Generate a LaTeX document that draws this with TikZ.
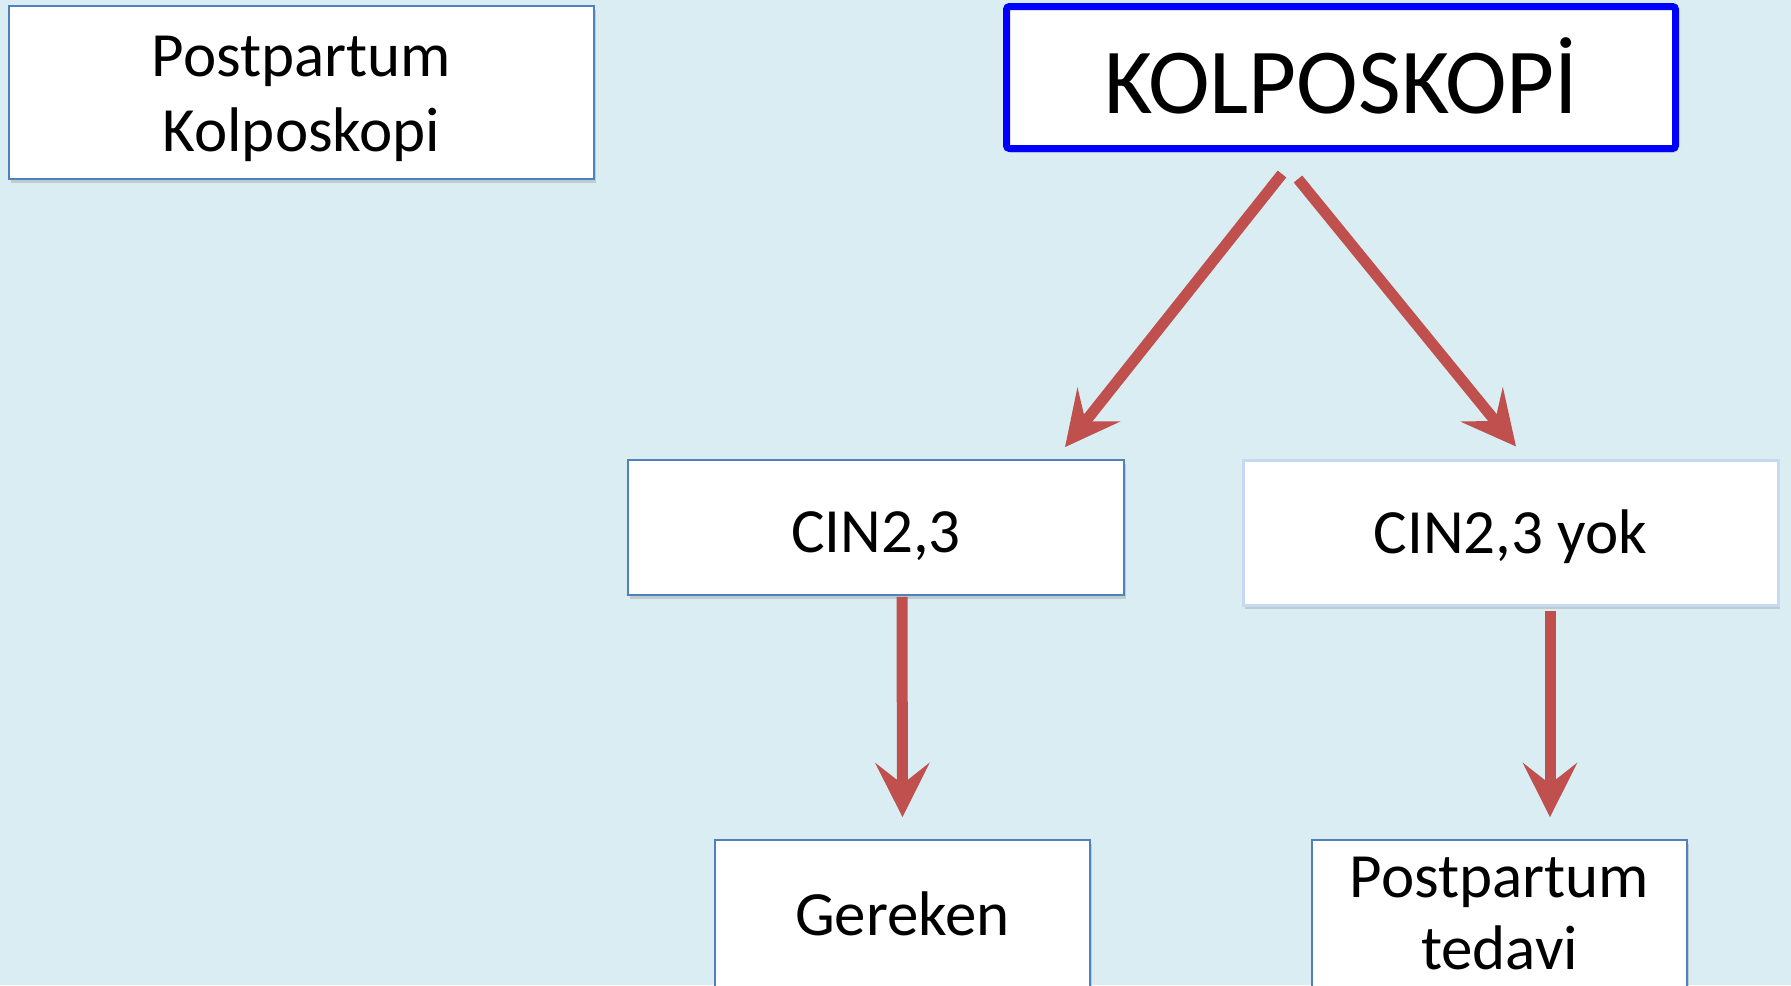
\documentclass[tikz,border=0pt]{standalone}
\usepackage{fontspec}
\setmainfont{Carlito}
\usetikzlibrary{arrows.meta,shadows,calc}
\definecolor{bgc}{HTML}{DAEDF3}
\definecolor{bord}{HTML}{4F81BD}
\definecolor{arrc}{HTML}{C0504D}
\definecolor{glow}{HTML}{C6D9F1}
\definecolor{kblue}{HTML}{0000FF}
\begin{document}
\begin{tikzpicture}[x=1bp,y=-1bp,
  box/.style={draw=bord, line width=1.8bp, fill=white, align=center, inner sep=0pt,
    font=\fontsize{63bp}{72bp}\selectfont,
    drop shadow={shadow xshift=2bp, shadow yshift=-4bp, opacity=0.3}},
  arr/.style={draw=arrc, line width=11bp,
    -{Stealth[length=54bp,width=54bp,inset=21bp]}}]
\fill[bgc] (0,0) rectangle (1791,985);
\useasboundingbox (0,0) rectangle (1791,985);

\node[box, minimum width=585bp, minimum height=173bp, font=\fontsize{63bp}{75bp}\selectfont] (pk) at (301.5,92.5)
  {\rule{0pt}{53bp}Postpartum\\Kolposkopi};
\node[box, draw=kblue, line width=7bp, rounded corners=3bp, minimum width=669bp, minimum height=142bp,
  text height=71bp, text depth=0bp,
  font=\fontsize{93bp}{100bp}\selectfont] (kolp) at (1341,77.5) {KOLPOSKOPİ};
\node[box, minimum width=496bp, minimum height=135bp, text height=49bp, text depth=0bp] (cin) at (876,527.5) {CIN2,3};
\node[box, draw=glow, line width=3bp, minimum width=535bp, minimum height=145bp,
  text height=41bp, text depth=0bp] (yok) at (1510.5,532.5) {CIN2,3 yok};
\node[box, minimum width=375bp, minimum height=148bp] (ger) at (902.5,914) {Gereken};
\node[box, minimum width=375bp, minimum height=148bp] (ted) at (1499.5,914) {Postpartum\\tedavi};

\draw[arr] ($(kolp.south)+(-59,22)$) -- ($(cin.north)+(189,-12)$);
\draw[arr] ($(kolp.south)+(-43,27)$) -- ($(yok.north)+(5.5,-12)$);
\draw[arr] ($(cin.south)+(26,1)$) -- ($(ger.north)+(0,-22)$);
\draw[arr] ($(yok.south)+(39.5,4)$) -- ($(ted.north)+(50.5,-22)$);
\end{tikzpicture}
\end{document}
